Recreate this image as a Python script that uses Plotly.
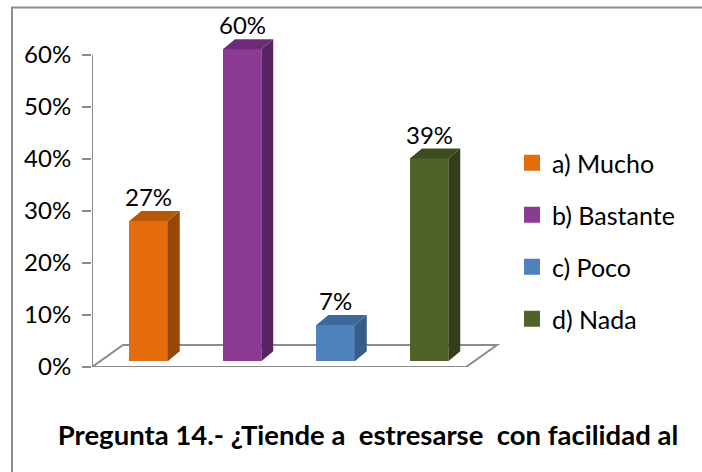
import numpy as np
import plotly.graph_objects as go

# ---- data ----
categories = ["a) Mucho", "b) Bastante", "c) Poco", "d) Nada"]
values = [27, 60, 7, 39]
value_labels = ["27%", "60%", "7%", "39%"]
tick_vals = [0, 10, 20, 30, 40, 50, 60]
tick_text = ["0%", "10%", "20%", "30%", "40%", "50%", "60%"]
title_text = "Pregunta 14.- ¿Tiende a  estresarse  con facilidad al"

# ---- styles ----
front_colors = ["#E46C0A", "#8C3A93", "#4F81BD", "#4F6228"]
side_colors = ["#974806", "#5A2462", "#375C88", "#323F18"]
top_colors = ["#B5580A", "#6E2C76", "#3E679A", "#3D4C1F"]
FONT = "Lato"
W, H = 702, 472

# geometry (pixels -> data units)
PX_PER_CAT = 93.5
PX_PER_PCT = 5.2
X0_PX, Y0_PX = 92, 367
BAR_SHIFT = 0.105          # bars sit partway back on the floor
BAR_W = 0.41
BASE = 1.1                 # bars start slightly above the front floor edge
DX, DY = 12 / PX_PER_CAT, 10 / PX_PER_PCT          # bar depth
FDX, FDY = 31 / PX_PER_CAT, 22 / PX_PER_PCT        # floor depth
LABEL_OFF = 5.8

x_range = [-0.5, -0.5 + (W - X0_PX) / PX_PER_CAT]
y_range = [0, Y0_PX / PX_PER_PCT]

pos = np.arange(len(categories)) + BAR_SHIFT

fig = go.Figure()

# front faces
for i, (c, v) in enumerate(zip(categories, values)):
    fig.add_trace(go.Bar(
        x=[pos[i]], y=[v], base=BASE, width=BAR_W,
        marker=dict(color=front_colors[i], line=dict(width=0)),
        showlegend=False, hoverinfo="skip", cliponaxis=False,
    ))

# side and top faces
for i, v in enumerate(values):
    xl, xr = pos[i] - BAR_W / 2, pos[i] + BAR_W / 2
    yb, yt = BASE, BASE + v
    fig.add_trace(go.Scatter(
        x=[xr, xr + DX, xr + DX, xr, xr],
        y=[yb, yb + DY, yt + DY, yt, yb],
        fill="toself", fillcolor=side_colors[i], mode="lines",
        line=dict(width=0), showlegend=False, hoverinfo="skip", cliponaxis=False,
    ))
    fig.add_trace(go.Scatter(
        x=[xl, xl + DX, xr + DX, xr, xl],
        y=[yt, yt + DY, yt + DY, yt, yt],
        fill="toself", fillcolor=top_colors[i], mode="lines",
        line=dict(width=0), showlegend=False, hoverinfo="skip", cliponaxis=False,
    ))

# legend entries
for i, c in enumerate(categories):
    fig.add_trace(go.Scatter(
        x=[None], y=[None], mode="markers", name=c, legendgroup=c,
        marker=dict(symbol="square", size=16, color=front_colors[i]),
    ))

# value labels
for i, v in enumerate(values):
    fig.add_annotation(
        x=pos[i], y=v + LABEL_OFF, text=value_labels[i], showarrow=False,
        xref="x", yref="y", yanchor="middle", xanchor="center",
        font=dict(family=FONT, size=24, color="#000000"),
    )

n = len(categories)
floor_x = [-0.5, -0.5 + n, -0.5 + n + FDX, -0.5 + FDX]
floor_y = [0, 0, FDY, FDY]
path = "M {} {} L {} {} L {} {} L {} {} Z".format(
    floor_x[0], floor_y[0], floor_x[1], floor_y[1],
    floor_x[2], floor_y[2], floor_x[3], floor_y[3])
fig.add_shape(type="path", path=path, xref="x", yref="y",
              line=dict(color="#8C8C8C", width=2), layer="below")
# value axis line
fig.add_shape(type="line", xref="x", yref="y", x0=-0.5, x1=-0.5,
              y0=0, y1=tick_vals[-1], line=dict(color="#8C8C8C", width=2),
              layer="below")
# outer chart border
fig.add_shape(type="rect", xref="paper", yref="paper",
              x0=12 / W, x1=1.05, y0=-0.05, y1=1 - 7.5 / H,
              line=dict(color="#8C8C8C", width=2), layer="below")

fig.update_layout(
    width=W, height=H,
    margin=dict(l=0, r=0, t=0, b=0, autoexpand=False),
    paper_bgcolor="white", plot_bgcolor="white",
    font=dict(family=FONT, color="#000000"),
    xaxis=dict(domain=[X0_PX / W, 1], range=x_range, visible=False,
               fixedrange=True, automargin=False),
    yaxis=dict(domain=[(H - Y0_PX) / H, 1], range=y_range,
               tickmode="array", tickvals=tick_vals, ticktext=tick_text,
               ticks="outside", ticklen=9, tickwidth=2, tickcolor="#8C8C8C",
               showgrid=False, zeroline=False, showline=False,
               automargin=False,
               tickfont=dict(family=FONT, size=24, color="#000000"),
               ticklabelstandoff=6),
    legend=dict(x=512 / W, y=1 - 140 / H, xanchor="left", yanchor="top",
                traceorder="grouped", tracegroupgap=16.5,
                font=dict(family=FONT, size=25, color="#000000"),
                itemwidth=30, bgcolor="rgba(0,0,0,0)"),
    title=dict(text="<b>" + title_text + "</b>", xref="container",
               yref="container", x=368 / W, y=1 - 435 / H,
               xanchor="center", yanchor="middle",
               font=dict(family=FONT, size=27.5, color="#000000")),
    bargap=0,
)

fig.write_html("out.html")
